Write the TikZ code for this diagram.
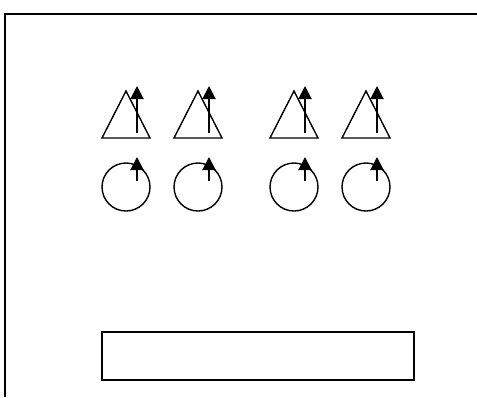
\documentclass[tikz,border=0pt]{standalone}
\usetikzlibrary{arrows.meta}

\begin{document}
\begin{tikzpicture}[x=1pt,y=-1pt,>={Triangle[width=13pt,length=13pt]},line width=1.4pt]
  \useasboundingbox (0,0) rectangle (477,397);
  \draw (5,397)--(5,14)--(477,14);
  \foreach \x in {126,198,294,366} {
    \draw (\x-24,138) -- (\x,91) -- (\x+24,138) -- cycle;
    \draw (\x,187) circle (24pt);
    \draw[->,line width=2pt] (\x+11,133) -- (\x+11,86);
    \draw[->,line width=2pt] (\x+11,181) -- (\x+11,157);
  }
  \draw (102,332) rectangle (414,380);
\end{tikzpicture}
\end{document}
